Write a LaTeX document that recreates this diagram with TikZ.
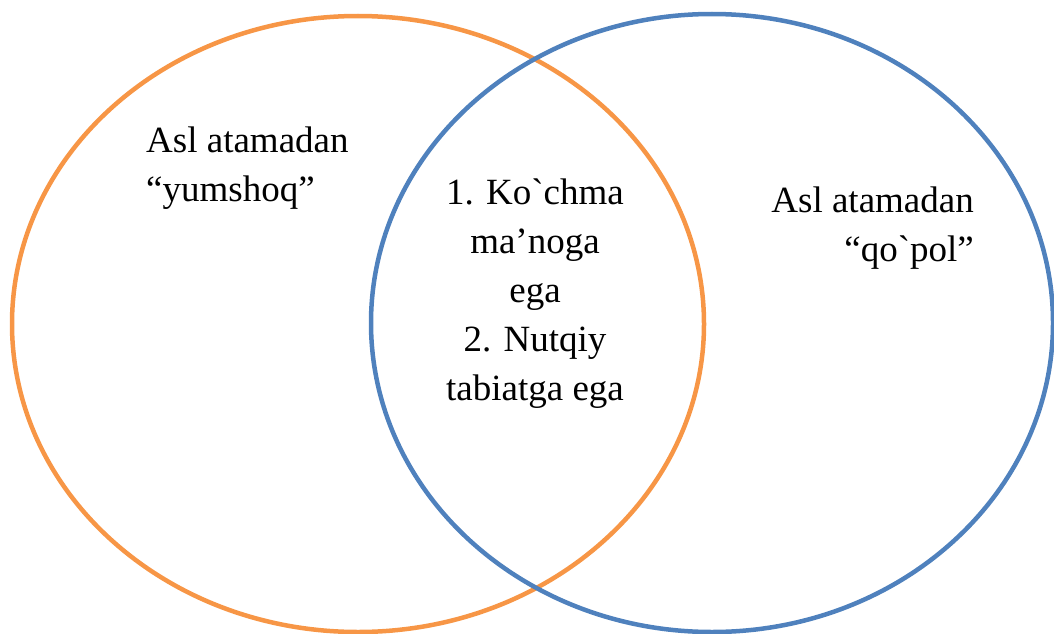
\documentclass[tikz,border=0pt]{standalone}
\usepackage{fontspec}
\setmainfont{Liberation Serif}
\usepackage{xcolor}
\definecolor{vennorange}{HTML}{F79646}
\definecolor{vennblue}{HTML}{4F81BD}

\begin{document}
\begin{tikzpicture}[x=1pt,y=-1pt,
        vtext/.style={inner sep=0pt, font=\fontsize{37}{49}\selectfont}]
            \useasboundingbox (0,0) rectangle (1054,634);
            \draw[color=vennorange, line width=4.5pt] (358,324) ellipse [x radius=346, y radius=308];
            \draw[color=vennblue, line width=4.5pt] (712,323) ellipse [x radius=341, y radius=309];
            \node[vtext, anchor=west, align=left] (yumshoq) at (146,168) {Asl atamadan\\“yumshoq”};
            \node[vtext, align=center] (umumiy) at (535,294) {1. Ko\textasciigrave chma\\ma’noga\\ega\\2. Nutqiy\\tabiatga ega};
            \node[vtext, anchor=east, align=right] (qopol) at (974,228) {Asl atamadan\\“qo\textasciigrave pol”};
        \end{tikzpicture}
\end{document}
